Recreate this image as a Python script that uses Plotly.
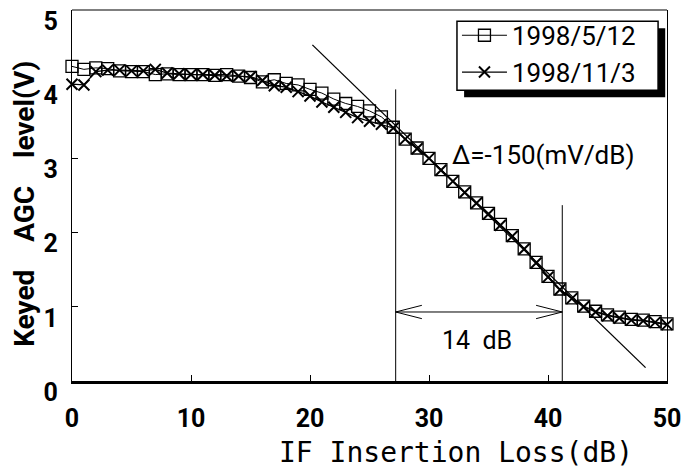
import plotly.graph_objects as go

# insertion loss (dB), one point per dB
loss_db = list(range(0, 51))

agc_may = [4.24, 4.20, 4.22, 4.21, 4.18, 4.17, 4.17, 4.13, 4.14, 4.13,
           4.13, 4.13, 4.12, 4.13, 4.11, 4.09, 4.03, 4.06, 4.01, 3.99,
           3.93, 3.88, 3.80, 3.74, 3.70, 3.64, 3.56, 3.42, 3.26, 3.14,
           3.00, 2.85, 2.69, 2.55, 2.40, 2.26, 2.11, 1.96, 1.78, 1.60,
           1.41, 1.24, 1.12, 1.01, 0.94, 0.89, 0.86, 0.83, 0.82, 0.80,
           0.77]

agc_nov = [4.00, 3.99, 4.17, 4.19, 4.19, 4.18, 4.18, 4.20, 4.15, 4.14,
           4.13, 4.13, 4.12, 4.11, 4.11, 4.10, 4.05, 3.98, 3.96, 3.90,
           3.84, 3.76, 3.69, 3.62, 3.55, 3.50, 3.46, 3.41, 3.26, 3.13,
           3.00, 2.84, 2.69, 2.54, 2.40, 2.25, 2.10, 1.95, 1.78, 1.59,
           1.40, 1.23, 1.11, 1.00, 0.93, 0.88, 0.85, 0.82, 0.81, 0.79,
           0.76]

series_names = ["1998/5/12", "1998/11/3"]

# tangent line, slope -150 mV/dB
tangent_x = [20.2, 48.2]
tangent_y = [4.53, 0.18]

# linear range markers
range_start, range_end = 27.2, 41.2
range_start_top, range_end_top = 3.93, 2.37
arrow_y = 0.93

FONT = "Roboto, Liberation Sans, sans-serif"
MONO = "DejaVu Sans Mono, monospace"
GAP = "\u00a0" * 4

fig = go.Figure()

fig.add_trace(go.Scatter(
    x=loss_db, y=agc_may, name=series_names[0], mode="lines+markers",
    line=dict(color="black", width=1),
    marker=dict(symbol="square-open", size=12, color="black", line=dict(width=1.3)),
    cliponaxis=False,
))
fig.add_trace(go.Scatter(
    x=loss_db, y=agc_nov, name=series_names[1], mode="lines+markers",
    line=dict(color="black", width=1.3),
    marker=dict(symbol="x-thin-open", size=11, color="black", line=dict(width=2, color="black")),
    cliponaxis=False,
))

fig.add_trace(go.Scatter(
    x=tangent_x, y=tangent_y, mode="lines", showlegend=False,
    line=dict(color="black", width=1.3), hoverinfo="skip",
))

# double arrow between the two vertical lines
head_len = 2.2
head_h = 0.09
arrow_x = [range_start + head_len, range_start, range_start + head_len, None,
           range_start, range_end, None,
           range_end - head_len, range_end, range_end - head_len]
arrow_yy = [arrow_y + head_h, arrow_y, arrow_y - head_h, None,
            arrow_y, arrow_y, None,
            arrow_y + head_h, arrow_y, arrow_y - head_h]
fig.add_trace(go.Scatter(
    x=arrow_x, y=arrow_yy, mode="lines", showlegend=False,
    line=dict(color="black", width=1), hoverinfo="skip", cliponaxis=False,
))

fig.add_shape(type="line", x0=range_start, x1=range_start, y0=-0.05, y1=range_start_top,
              line=dict(color="black", width=1))
fig.add_shape(type="line", x0=range_end, x1=range_end, y0=-0.12, y1=range_end_top,
              line=dict(color="black", width=1))
# top frame line (bottom axis is heavy, top is thin)
fig.add_shape(type="line", xref="paper", yref="paper", x0=0, x1=1, y0=1, y1=1,
              line=dict(color="black", width=1.2))
# legend frame with drop shadow (legend itself is transparent on top)
fig.add_shape(type="rect", xref="paper", yref="paper", x0=0.659, x1=0.997, y0=0.765, y1=0.951,
              fillcolor="black", line=dict(width=0), layer="above")
fig.add_shape(type="rect", xref="paper", yref="paper", x0=0.647, x1=0.985, y0=0.784, y1=0.970,
              fillcolor="white", line=dict(color="black", width=1.5), layer="above")

fig.add_annotation(x=31.8, y=3.05, xanchor="left", yanchor="middle", showarrow=False,
                   text="\u0394=-150(mV/dB)", font=dict(family=FONT, size=26, color="black"))
fig.add_annotation(x=34.0, y=0.55, showarrow=False, text="14  dB",
                   font=dict(family=FONT, size=25, color="black"))

# axis titles placed as in the original figure
fig.add_annotation(xref="paper", yref="paper", x=0.646, y=-0.193,
                   xanchor="center", yanchor="middle",
                   showarrow=False, text="IF Insertion Loss(dB)",
                   font=dict(family=MONO, size=28, color="black"))
fig.add_annotation(xref="paper", yref="paper", x=-0.081, y=0.477, textangle=-90,
                   xanchor="center", yanchor="middle",
                   showarrow=False, text="Keyed" + GAP + "AGC" + GAP + "level(V)",
                   font=dict(family=FONT, size=28, color="black", weight="bold"))

# page body adds an 8 px offset at top/left, so the figure is sized 8 px smaller
fig.update_layout(
    width=689, height=462,
    margin=dict(l=64, r=30, t=2, b=89),
    plot_bgcolor="white", paper_bgcolor="white",
    font=dict(family=FONT, size=24, color="black"),
    legend=dict(
        x=0.647, y=0.995, xanchor="left", yanchor="top",
        bgcolor="rgba(0,0,0,0)", borderwidth=0,
        font=dict(family=FONT, size=26, color="black"),
        tracegroupgap=0, itemwidth=45,
    ),
)

fig.update_xaxes(
    range=[0, 50], tick0=0, dtick=10, showgrid=False, zeroline=False,
    showline=True, linecolor="black", linewidth=3, automargin=False,
    ticks="inside", ticklen=6, tickcolor="black",
    ticklabelstandoff=13, ticklabeloverflow="allow",
    tickfont=dict(family=FONT, size=25, color="black", weight="bold"),
)
fig.update_yaxes(
    range=[0, 5], tick0=0, dtick=1, showgrid=False, zeroline=False,
    showline=True, linecolor="black", linewidth=1.2, mirror=True, automargin=False,
    ticks="inside", ticklen=6, tickcolor="black",
    ticklabelshift=11, ticklabelstandoff=8, ticklabeloverflow="allow",
    tickfont=dict(family=FONT, size=25, color="black", weight="bold"),
)

fig.write_html("out.html")
